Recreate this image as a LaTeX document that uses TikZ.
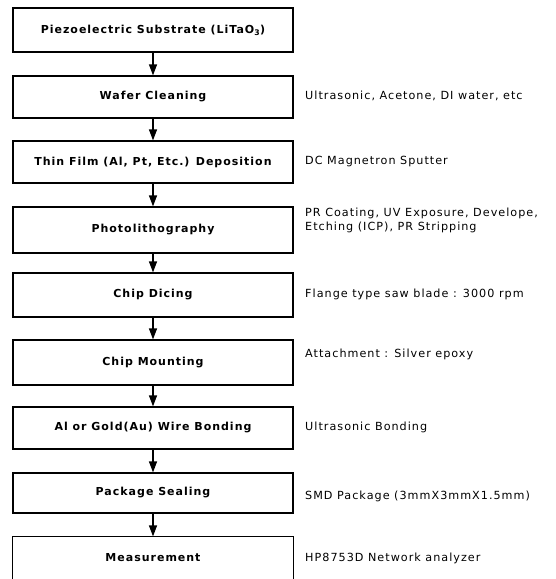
\documentclass[tikz,border=0pt]{standalone}
\usepackage{fontspec}
\setmainfont{DejaVu Sans}[LetterSpace=9]
\usetikzlibrary{arrows.meta}
\begin{document}
\begin{tikzpicture}[x=1pt,y=-1pt,
  stepbox/.style={draw, line width=1.2pt, minimum width=280pt, inner sep=0pt, font=\bfseries\fontsize{11}{13}\selectfont},
  note/.style={anchor=west, align=left, inner sep=0pt, font=\fontsize{11.2}{14}\selectfont},
  flow/.style={line width=1.2pt, -{Triangle[length=11pt,width=8pt]}}]
\useasboundingbox (0,0) rectangle (555,579);
\node[stepbox, minimum height=44pt] (s1) at (153,30) {Piezoelectric Substrate (LiTaO\textsubscript{3})};
\node[stepbox, minimum height=42pt] (s2) at (153,97) {Wafer Cleaning};
\node[stepbox, minimum height=42pt] (s3) at (153,162) {Thin Film (Al, Pt, Etc.) Deposition};
\node[stepbox, minimum height=46pt] (s4) at (153,230) {Photolithography};
\node[stepbox, minimum height=44pt] (s5) at (153,295) {Chip Dicing};
\node[stepbox, minimum height=45pt] (s6) at (153,362.5) {Chip Mounting};
\node[stepbox, minimum height=42pt] (s7) at (153,428) {Al or Gold(Au) Wire Bonding};
\node[stepbox, minimum height=40pt] (s8) at (153,493) {Package Sealing};
\node[stepbox, draw=none, minimum height=42pt] (s9) at (153,558) {Measurement};
\draw[line width=1.2pt] (s9.south west) -- (s9.north west) -- (s9.north east) -- (s9.south east);
\foreach \a/\b in {s1/s2,s2/s3,s3/s4,s4/s5,s5/s6,s6/s7,s7/s8,s8/s9}
  \draw[flow] (\a.south) -- (\b.north);
\node[note] (n2) at (305,96) {Ultrasonic, Acetone, DI water, etc};
\node[note] (n3) at (305,162) {DC Magnetron Sputter};
\node[note] (n4) at (305,220) {PR Coating, UV Exposure, Develope,\\Etching (ICP), PR Stripping};
\node[note] (n5) at (305,294) {Flange type saw blade : 3000 rpm};
\node[note] (n6) at (305,354) {Attachment : Silver epoxy};
\node[note] (n7) at (305,427) {Ultrasonic Bonding};
\node[note] (n8) at (305,496) {SMD Package (3mmX3mmX1.5mm)};
\node[note] (n9) at (305,558) {HP8753D Network analyzer};
\end{tikzpicture}
\end{document}
